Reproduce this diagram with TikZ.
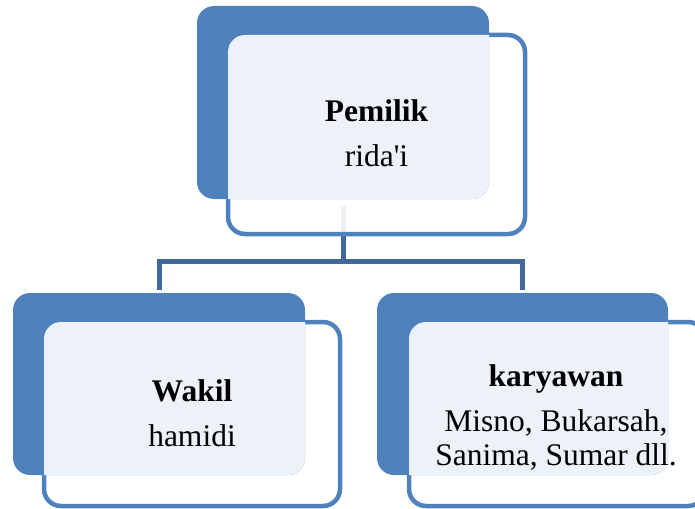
\documentclass[tikz,border=0pt]{standalone}
\usepackage{fontspec}
\setmainfont{Liberation Serif}
\definecolor{accentblue}{HTML}{4F81BD}
\definecolor{linkblue}{HTML}{3F6A9A}
\tikzset{
  backbox/.style={rectangle, rounded corners=17pt, fill=accentblue, draw=none,
    inner sep=0pt, outer sep=0pt},
  cardbox/.style={rectangle, rounded corners=17pt, draw=accentblue, line width=4.5pt,
    fill=white, fill opacity=0.9, inner sep=0pt, outer sep=0pt},
  link/.style={draw=linkblue, line width=5pt},
  headtext/.style={font=\fontsize{31.5}{34}\selectfont\bfseries, anchor=base, inner sep=0pt},
  bodytext/.style={font=\fontsize{31.5}{34}\selectfont, anchor=base, inner sep=0pt},
}
\begin{document}
\begin{tikzpicture}[x=1pt,y=-1pt]
\useasboundingbox (0,0) rectangle (695,508);

% coloured back panels (placed first so connectors can refer to them)
\path (343,102.5) node[minimum width=292pt, minimum height=193pt, inner sep=0pt, outer sep=0pt] (topblue) {};
\path (159,384) node[minimum width=292pt, minimum height=182pt, inner sep=0pt, outer sep=0pt] (leftblue) {};
\path (522.5,384) node[minimum width=291pt, minimum height=182pt, inner sep=0pt, outer sep=0pt] (rightblue) {};
\coordinate (stem) at ([yshift=-7pt]topblue.south);
\coordinate (fork) at (343,261.5);

% connectors, drawn underneath the cards
\draw[link] (stem) -- (fork);
\draw[link, line cap=rect] ([yshift=6pt]leftblue.north) |- (fork) -| ([yshift=6pt]rightblue.north);

% one card group: white card, blue panel on top, translucent overlap
\foreach \bx/\by/\bw/\bh/\cx/\cy/\cw/\ch/\nm in {
    343/102.5/292/193/376.5/134.5/297/199/top,
    159/384/292/182/192/414/296/184/left,
    522.5/384/291/182/557/414/296/184/right}{
  \node[cardbox, minimum width=\cw pt, minimum height=\ch pt] (\nm card) at (\cx,\cy) {};
  \node[backbox, minimum width=\bw pt, minimum height=\bh pt] (\nm panel) at (\bx,\by) {};
  \begin{scope}
    \clip[rounded corners=17pt] (\nm panel.north west) rectangle (\nm panel.south east);
    \fill[white, opacity=0.9, rounded corners=17pt] (\nm card.north west) rectangle (\nm card.south east);
  \end{scope}
}

% labels
\node[headtext] (pemilik) at (376.5,121.7) {Pemilik};
\node[bodytext] (ridai) at (376.5,166.7) {rida\textquotesingle i};
\node[headtext] (wakil) at (192,401.7) {Wakil};
\node[bodytext] (hamidi) at (192,446.7) {hamidi};
\node[headtext] (karyawan) at (556,386) {karyawan};
\node[bodytext] (namesa) at (556,431.7) {Misno, Bukarsah,};
\node[bodytext] (namesb) at (556,465) {Sanima, Sumar dll.};
\end{tikzpicture}
\end{document}
